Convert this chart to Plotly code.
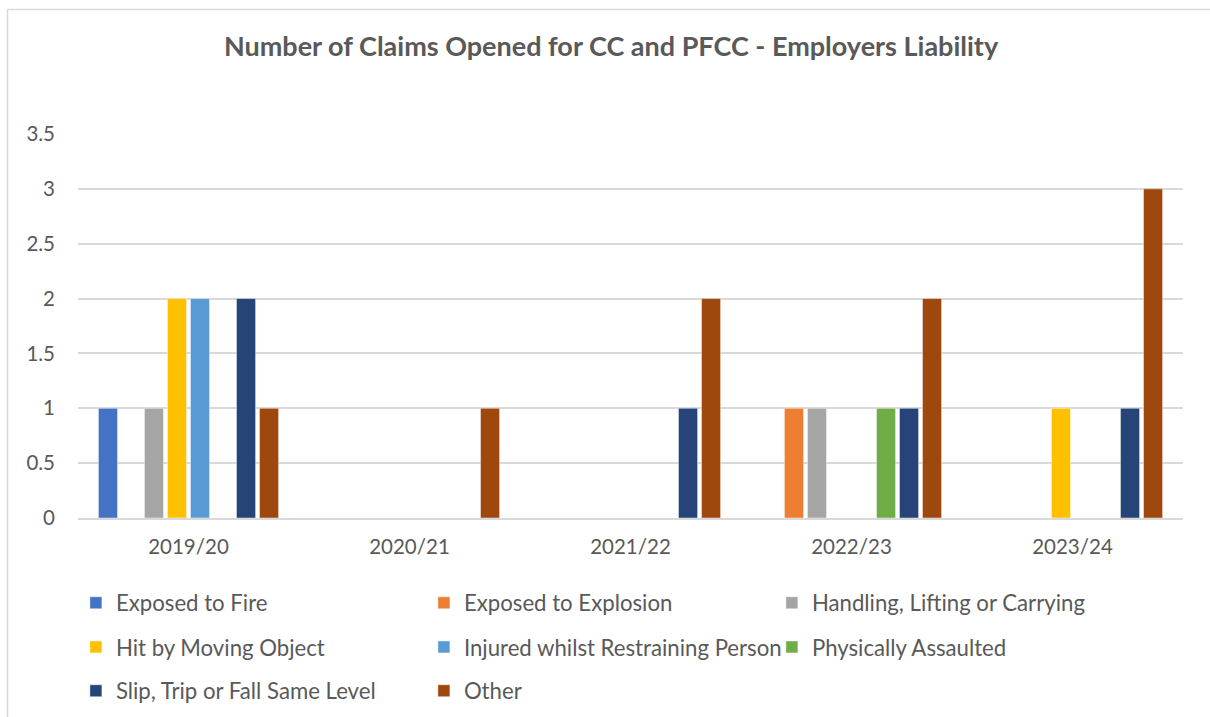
import plotly.graph_objects as go

categories = ["2019/20", "2020/21", "2021/22", "2022/23", "2023/24"]
series_names = [
    "Exposed to Fire",
    "Exposed to Explosion",
    "Handling, Lifting or Carrying",
    "Hit by Moving Object",
    "Injured whilst Restraining Person",
    "Physically Assaulted",
    "Slip, Trip or Fall Same Level",
    "Other",
]
exposed_fire = [1, 0, 0, 0, 0]
exposed_explosion = [0, 0, 0, 1, 0]
handling = [1, 0, 0, 1, 0]
hit_moving = [2, 0, 0, 0, 1]
injured_restraining = [2, 0, 0, 0, 0]
physically_assaulted = [0, 0, 0, 1, 0]
slip_trip = [2, 0, 1, 1, 1]
other = [1, 1, 2, 2, 3]
series_values = [exposed_fire, exposed_explosion, handling, hit_moving,
                 injured_restraining, physically_assaulted, slip_trip, other]
y_ticks = [0, 0.5, 1, 1.5, 2, 2.5, 3, 3.5]

colors = ["#4472C4", "#ED7D31", "#A5A5A5", "#FFC000",
          "#5B9BD5", "#70AD47", "#264478", "#9E480E"]
legend_ids = ["legend", "legend", "legend", "legend2", "legend2", "legend2", "legend3", "legend3"]

FONT = "Lato, 'Open Sans', sans-serif"
TXT = "#595959"

fig = go.Figure()
for name, vals, col, lg in zip(series_names, series_values, colors, legend_ids):
    fig.add_trace(go.Bar(
        x=categories, y=vals, name=name,
        marker=dict(color=col, line=dict(color="rgba(255,255,255,0.6)", width=0.75)),
        legend=lg,
    ))

leg_common = dict(orientation="h", xanchor="left", yanchor="middle", x=-0.0019,
                  font=dict(family=FONT, size=22.2, color=TXT),
                  entrywidth=303, bgcolor="rgba(0,0,0,0)", itemclick=False)

fig.update_layout(
    width=1210, height=717,
    margin=dict(l=78, r=27, t=134, b=199, autoexpand=False),
    paper_bgcolor="white", plot_bgcolor="white",
    barmode="group", bargap=0.167, bargroupgap=0.17,
    title=dict(text="<b>Number of Claims Opened for CC and PFCC - Employers Liability</b>",
               x=0.505, xanchor="center", y=1 - 47 / 717, yanchor="middle",
               font=dict(family=FONT, size=27, color=TXT)),
    font=dict(family=FONT, color=TXT),
    xaxis=dict(showgrid=False, showline=True, linecolor="#D9D9D9", linewidth=1.5,
               tickfont=dict(family=FONT, size=20.5, color=TXT), ticks="",
               ticklabelstandoff=10),
    yaxis=dict(range=[0, 3.5], tickvals=y_ticks, ticktext=[f"{v:g}" for v in y_ticks],
               showgrid=True, gridcolor="#D9D9D9", gridwidth=1.5, zeroline=False,
               showline=False, tickfont=dict(family=FONT, size=20.5, color=TXT),
               ticklabelstandoff=22),
    legend=dict(**leg_common, y=-0.221),
    legend2=dict(**leg_common, y=-0.336),
    legend3=dict(**leg_common, y=-0.45),
    shapes=[
        dict(type="line", xref="paper", yref="paper", x0=-0.0638, x1=-0.0638,
             y0=1.3242, y1=-0.53, line=dict(color="#D9D9D9", width=1.5)),
        dict(type="line", xref="paper", yref="paper", x0=-0.0638, x1=1.03,
             y0=1.3242, y1=1.3242, line=dict(color="#D9D9D9", width=1.5)),
    ],
)

fig.write_html("out.html", config={"displayModeBar": False},
               post_script="document.body.style.margin='0';document.body.style.overflow='hidden';")
